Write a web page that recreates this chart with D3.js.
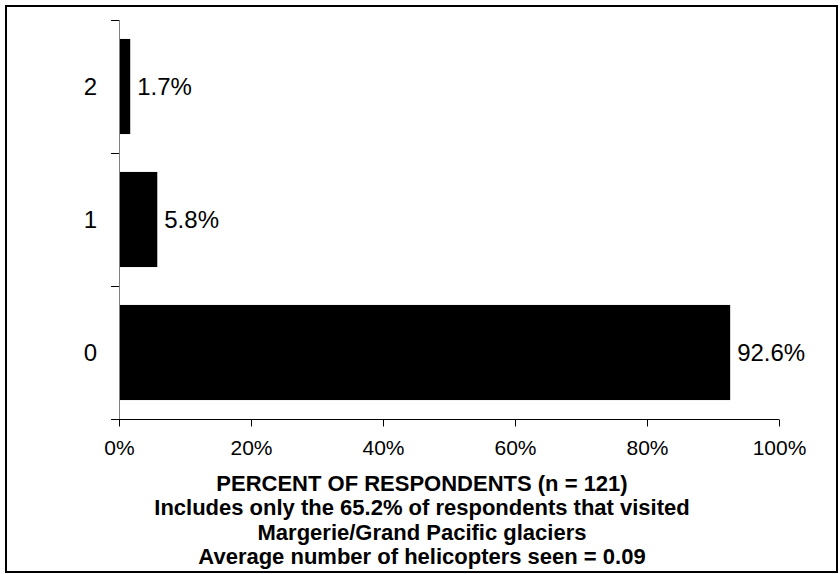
<!DOCTYPE html>
<html>
<head>
<meta charset="utf-8">
<script src="https://cdn.jsdelivr.net/npm/d3@7"></script>
<style>
  body { margin: 0; background: #fff; }
  svg { display: block; font-family: "Liberation Sans", Arial, sans-serif; }
</style>
</head>
<body>
<div id="chart"></div>
<script>
'use strict'

// data
const categories = ['2', '1', '0']
const percents = [1.7, 5.8, 92.6]
const xTicks = [0, 20, 40, 60, 80, 100]
const footer = [
    'PERCENT OF RESPONDENTS (n = 121)',
    'Includes only the 65.2% of respondents that visited',
    'Margerie/Grand Pacific glaciers',
    'Average number of helicopters seen = 0.09'
]

const svgWidth = 840, svgHeight = 574
const plot = {left: 119, right: 779, top: 20, bottom: 419}

const svg = d3.select('#chart')
    .append('svg')
    .attr('width', svgWidth)
    .attr('height', svgHeight)

// outer frame
svg.append('rect')
    .attr('x', 6).attr('y', 6)
    .attr('width', 831).attr('height', 566)
    .attr('fill', 'none')
    .attr('stroke', '#000')
    .attr('stroke-width', 2)

const x = d3.scaleLinear().domain([0, 100]).range([plot.left, plot.right])
const y = d3.scaleBand()
    .domain(categories)
    .range([plot.top, plot.bottom])
    .paddingInner(0.285)
    .paddingOuter(0.1425)

// bars
svg.append('g')
  .selectAll('rect')
    .data(categories)
    .join('rect')
    .attr('x', x(0))
    .attr('y', d => y(d))
    .attr('width', (d, i) => x(percents[i]) - x(0))
    .attr('height', y.bandwidth())
    .attr('fill', '#000')

// value labels
svg.append('g')
  .selectAll('text')
    .data(categories)
    .join('text')
    .attr('x', (d, i) => x(percents[i]) + 7)
    .attr('y', d => y(d) + y.bandwidth() / 2)
    .attr('dy', '0.36em')
    .attr('font-size', 24)
    .attr('fill', '#000')
    .text((d, i) => percents[i].toFixed(1) + '%')

// y axis (category boundaries as ticks)
const yAxis = svg.append('g').attr('stroke', '#808080').attr('stroke-width', 1)
yAxis.append('line')
    .attr('x1', plot.left + 0.5).attr('x2', plot.left + 0.5)
    .attr('y1', plot.top).attr('y2', plot.bottom)
yAxis.selectAll('.ytick')
    .data(categories)
    .join('line')
    .attr('class', 'ytick')
    .attr('x1', plot.left - 8).attr('x2', plot.left)
    .attr('y1', d => Math.round(y(d) - y.step() * y.paddingInner() / 2) + 0.5)
    .attr('y2', d => Math.round(y(d) - y.step() * y.paddingInner() / 2) + 0.5)
    .attr('stroke', '#000')

svg.append('g')
  .selectAll('text')
    .data(categories)
    .join('text')
    .attr('x', 97)
    .attr('y', d => y(d) + y.bandwidth() / 2)
    .attr('dy', '0.36em')
    .attr('text-anchor', 'end')
    .attr('font-size', 24)
    .text(d => d)

// x axis
const xAxis = d3.axisBottom(x)
    .tickValues(xTicks)
    .tickSize(7)
    .tickSizeOuter(0)
    .tickPadding(14)
    .tickFormat(d => d + '%')

const gx = svg.append('g')
    .attr('transform', `translate(0,${plot.bottom + 0.5})`)
    .call(xAxis)
gx.select('.domain').remove()
gx.append('line')
    .attr('x1', plot.left - 8).attr('x2', plot.right)
    .attr('stroke', '#000')
gx.selectAll('.tick line').attr('stroke', '#000')
gx.selectAll('.tick text')
    .attr('font-family', '"Liberation Sans", Arial, sans-serif')
    .attr('font-size', 21)
    .attr('fill', '#000')

// footer text
svg.append('g')
  .selectAll('text')
    .data(footer)
    .join('text')
    .attr('x', 422)
    .attr('y', (d, i) => 491 + i * 24.4)
    .attr('text-anchor', 'middle')
    .attr('font-size', 22)
    .attr('font-weight', 'bold')
    .text(d => d)
</script>
</body>
</html>
